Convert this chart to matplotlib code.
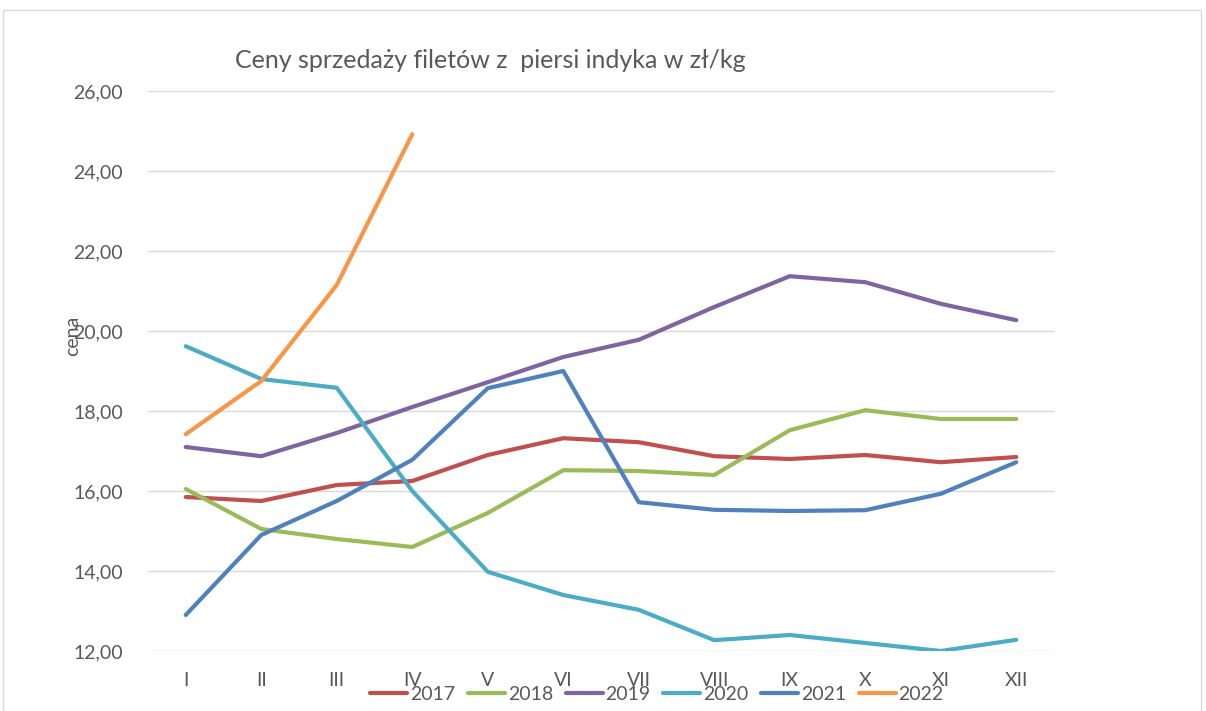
import matplotlib
matplotlib.use("Agg")
import matplotlib.pyplot as plt
from matplotlib.patches import Rectangle
from matplotlib.ticker import FuncFormatter

plt.rcParams['font.family'] = ['Lato', 'DejaVu Sans']

months = ["I", "II", "III", "IV", "V", "VI", "VII", "VIII", "IX", "X", "XI", "XII"]

p2017 = [15.85, 15.75, 16.15, 16.25, 16.90, 17.32, 17.22, 16.87, 16.80, 16.90, 16.72, 16.85]
p2018 = [16.05, 15.05, 14.80, 14.60, 15.45, 16.52, 16.50, 16.40, 17.52, 18.02, 17.80, 17.80]
p2019 = [17.10, 16.87, 17.45, 18.10, 18.72, 19.35, 19.78, 20.60, 21.37, 21.22, 20.68, 20.27]
p2020 = [19.62, 18.80, 18.58, 16.00, 13.98, 13.40, 13.03, 12.27, 12.40, 12.20, 12.00, 12.28]
p2021 = [12.90, 14.90, 15.75, 16.78, 18.57, 19.00, 15.72, 15.53, 15.50, 15.52, 15.93, 16.72]
p2022 = [17.42, 18.75, 21.15, 24.92]

series = [
    ("2017", p2017, "#C0504D"),
    ("2018", p2018, "#9BBB59"),
    ("2019", p2019, "#8064A2"),
    ("2020", p2020, "#4BACC6"),
    ("2021", p2021, "#4F81BD"),
    ("2022", p2022, "#F79646"),
]

W, H = 1206, 711
fig = plt.figure(figsize=(W / 100, H / 100), dpi=100)
# plot area in pixels: left 148, right 1054, top 91, bottom 651
ax = fig.add_axes([148 / W, 1 - 651 / H, (1054 - 148) / W, (651 - 91) / H])

# chart border
fig.patches.append(Rectangle((3 / W, -0.05), 1198 / W, 1.05 - 10 / H,
                             transform=fig.transFigure, fill=False,
                             edgecolor="#D9D9D9", lw=1.0))

for name, vals, col in series:
    ax.plot(range(len(vals)), vals, color=col, lw=3, label=name,
            solid_capstyle="round", solid_joinstyle="round")

ax.set_xlim(-0.5, 11.5)
ax.set_ylim(12, 26)
ax.set_yticks([12, 14, 16, 18, 20, 22, 24, 26])
ax.yaxis.set_major_formatter(FuncFormatter(lambda v, p: f"{v:.2f}".replace(".", ",")))
ax.set_xticks(range(12))
ax.set_xticklabels(months)
ax.grid(axis="y", color="#D9D9D9", lw=1)
ax.set_axisbelow(True)
for s in ax.spines.values():
    s.set_visible(False)
ax.tick_params(axis="both", length=0, labelsize=14, colors="#595959")
ax.tick_params(axis="y", pad=18)
ax.tick_params(axis="x", pad=15)

fig.text(490 / W, 1 - 60 / H, "Ceny sprzedaży filetów z  piersi indyka w zł/kg",
         ha="center", va="center", fontsize=18, color="#595959")
fig.text(73 / W, 1 - 336 / H, "cena", rotation=90, ha="center", va="center",
         fontsize=14, color="#595959")

fig.legend(loc="center", bbox_to_anchor=(657 / W, 1 - 694 / H), ncol=6,
           frameon=False, fontsize=14, handlelength=1.9, handletextpad=0.15,
           columnspacing=0.65, labelcolor="#595959", borderpad=0)

fig.savefig("out.png", dpi=100)
